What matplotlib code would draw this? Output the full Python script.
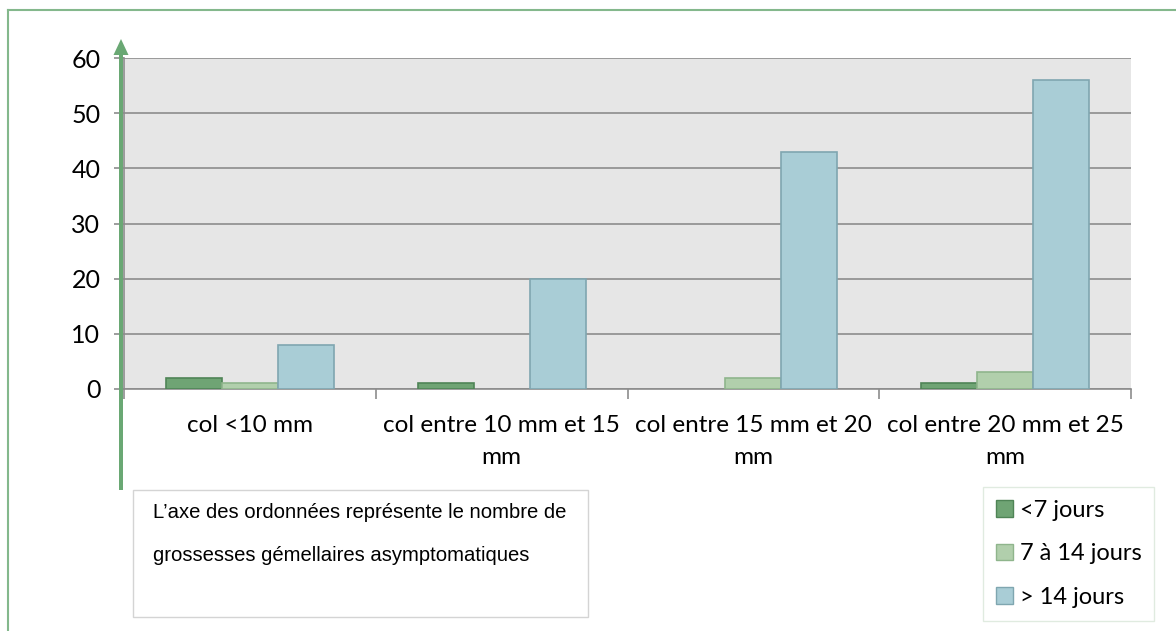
import matplotlib
matplotlib.use("Agg")
import matplotlib.pyplot as plt
import numpy as np
from matplotlib.patches import Patch, Rectangle, FancyArrow
from matplotlib.lines import Line2D

categories = ["col <10 mm", "col entre 10 mm et 15\nmm", "col entre 15 mm et 20\nmm", "col entre 20 mm et 25\nmm"]
series_names = ["<7 jours", "7 à 14 jours", "> 14 jours"]
lt7 = [2, 1, 0, 1]
d7_14 = [1, 0, 2, 3]
gt14 = [8, 20, 43, 56]
yticks = [0, 10, 20, 30, 40, 50, 60]
note = "L’axe des ordonnées représente le nombre de\ngrossesses gémellaires asymptomatiques"

face_colors = ["#6fa474", "#b1cfac", "#a9cdd6"]
edge_colors = ["#4f8456", "#8fb58c", "#7fa6b0"]

W, H = 1176, 631
fig = plt.figure(figsize=(W / 100, H / 100), dpi=100)

def fx(px):
    return px / W

def fy(py):
    return 1 - py / H

L, R, T, B = 124, 1131, 58, 389
ax = fig.add_axes([fx(L), fy(B), fx(R - L), (B - T) / H])
ax.set_facecolor("#e6e6e6")

x = np.arange(len(categories))
bw = 2 / 9  # 3 bars + gap 150%
for i, (vals, fc, ec, name) in enumerate(zip([lt7, d7_14, gt14], face_colors, edge_colors, series_names)):
    bars = ax.bar(x + (i - 1) * bw, vals, width=bw, color=fc, edgecolor=ec, linewidth=1.2, label=name, zorder=3)
    for b, v in zip(bars, vals):
        if v == 0:
            b.set_visible(False)

ax.set_xlim(-0.5, len(categories) - 0.5)
ax.set_ylim(0, 60)
ax.set_yticks(yticks)
ax.yaxis.grid(True, color="#8c8c8c", linewidth=1.2, zorder=1)
ax.set_axisbelow(True)
for s in ["top", "right"]:
    ax.spines[s].set_visible(False)
for s in ["left", "bottom"]:
    ax.spines[s].set_color("#8c8c8c")
    ax.spines[s].set_linewidth(1.2)

ax.set_xticks(x)
ax.set_xticklabels(categories, fontsize=17.5, fontfamily="Lato", linespacing=1.6)
ax.tick_params(axis="x", which="major", length=0, pad=19)
ax.set_xticks(np.arange(-0.5, len(categories)), minor=True)
ax.tick_params(axis="x", which="minor", length=7, color="#8c8c8c", width=1.2)
ax.tick_params(axis="y", length=7, color="#8c8c8c", width=1.2, labelsize=18, pad=10)
for lab in ax.get_yticklabels():
    lab.set_fontfamily("Lato")

# outer green border (top and left visible)
fig.add_artist(Line2D([fx(8), fx(8)], [fy(10), 0], color="#84b88c", linewidth=1.5))
fig.add_artist(Line2D([fx(8), 1], [fy(10), fy(10)], color="#84b88c", linewidth=1.5))

# green arrow
fig.add_artist(FancyArrow(fx(121), fy(490), 0, (490 - 39) / H, width=fx(4),
                          head_width=fx(15), head_length=16 / H, length_includes_head=True,
                          color="#6aa874", transform=fig.transFigure, linewidth=0, zorder=5))

# note box
fig.add_artist(Rectangle((fx(133), fy(617)), fx(588 - 133), (617 - 490) / H,
                         facecolor="white", edgecolor="#d4d4d4", linewidth=1.0,
                         transform=fig.transFigure))
fig.text(fx(153), fy(534), note, fontsize=14.6, fontfamily="Liberation Sans",
         va="center", ha="left", linespacing=2.65)

handles = [Patch(facecolor=fc, edgecolor=ec, linewidth=1.0) for fc, ec in zip(face_colors, edge_colors)]
leg = fig.legend(handles, series_names, loc="upper left", bbox_to_anchor=(fx(983), fy(487)),
                 frameon=True, fancybox=False, edgecolor="#d9e6d9", prop={"family": "Lato", "size": 17},
                 handlelength=0.7, handleheight=0.7, handletextpad=0.3, labelspacing=0.95,
                 borderpad=0.55, borderaxespad=0)
leg.get_frame().set_linewidth(1.0)

fig.savefig("out.png", dpi=100, facecolor="white")
